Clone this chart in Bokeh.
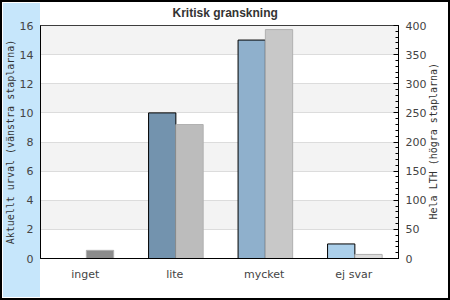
from bokeh.plotting import figure
from bokeh.models import (Range1d, LinearAxis, SingleIntervalTicker, FixedTicker,
                          FactorRange, ColumnDataSource)
from bokeh.transform import dodge
from bokeh.embed import file_html
from bokeh.resources import INLINE
import math

# ---- data ----
categories = ["inget", "lite", "mycket", "ej svar"]
urval_values = [0, 10, 15, 1]          # left axis (Aktuellt urval)
hela_lth_values = [14, 230, 393, 7]    # right axis (Hela LTH)
left_colors = ["#5f7f9a", "#7393ae", "#8fb0cc", "#abcfea"]
right_colors = ["#8c8c8c", "#bcbcbc", "#c8c8c8", "#dcdcdc"]

title_text = "Kritisk granskning"
left_label = "Aktuellt urval (vänstra staplarna)"
right_label = "Hela LTH (högra staplarna)"

src = ColumnDataSource(dict(cat=categories, urval=urval_values, hela=hela_lth_values,
                            lcol=left_colors, rcol=right_colors))

p = figure(width=450, height=300, x_range=FactorRange(*categories, range_padding=0),
           y_range=Range1d(0, 16), output_backend="svg", toolbar_location=None,
           min_border_left=40, min_border_right=52, min_border_top=25, min_border_bottom=42,
           title=title_text, background_fill_color="white",
           border_fill_color=None,
           styles={"background": "linear-gradient(#c6e6fb, #c6e6fb) 3px 3px / 37px 294px no-repeat, white",
                   "box-shadow": "inset 0 0 0 2px black"})

p.extra_y_ranges = {"right": Range1d(0, 400)}

lt = SingleIntervalTicker(interval=2, num_minor_ticks=0)
p.yaxis.ticker = lt
p.ygrid.ticker = lt
p.xgrid.grid_line_color = None
p.ygrid.grid_line_color = "#dcdcdc"
p.ygrid.band_fill_color = "#f3f3f3"
p.ygrid.band_fill_alpha = 1

p.outline_line_color = "black"
p.outline_line_width = 1

# left bars
p.vbar(x=dodge("cat", -0.14, range=p.x_range), top="urval", width=0.305, source=src,
       fill_color="lcol", line_color="black", line_width=1)
# right bars
p.vbar(x=dodge("cat", 0.165, range=p.x_range), top="hela", width=0.305, source=src,
       y_range_name="right", fill_color="rcol", line_color="#b0b0b0", line_width=1)

right = LinearAxis(y_range_name="right",
                   ticker=SingleIntervalTicker(interval=50, num_minor_ticks=5))
p.add_layout(right, "right")

# second right-hand axis that only carries the title, reading bottom-to-top
right_title_axis = LinearAxis(y_range_name="right", ticker=FixedTicker(ticks=[67]),
                              major_label_overrides={67: right_label},
                              major_label_orientation=math.pi / 2)
p.add_layout(right_title_axis, "right")

left = p.left[0]
bottom = p.below[0]

for ax in (left, right, bottom):
    ax.major_label_text_font = "DejaVu Sans"
    ax.major_label_text_font_size = "11px"
    ax.major_label_text_color = "#444444"
    ax.axis_label_text_font = "DejaVu Sans Mono"
    ax.axis_label_text_font_size = "10px"
    ax.axis_label_text_font_style = "normal"
    ax.axis_label_text_color = "#333333"
    ax.axis_line_color = "black"

right_title_axis.axis_line_color = None
right_title_axis.major_tick_line_color = None
right_title_axis.minor_tick_line_color = None
right_title_axis.major_tick_in = 0
right_title_axis.major_tick_out = 0
right_title_axis.minor_tick_in = 0
right_title_axis.minor_tick_out = 0
right_title_axis.major_label_standoff = 4
right_title_axis.major_label_text_font = "DejaVu Sans Mono"
right_title_axis.major_label_text_font_size = "10px"
right_title_axis.major_label_text_color = "#333333"

left.axis_label = left_label
left.major_tick_line_color = None
left.minor_tick_line_color = None
left.major_tick_out = 0
left.major_tick_in = 0
left.minor_tick_out = 0
left.major_label_standoff = 7
left.axis_label_standoff = 1

right.major_tick_in = 5
right.major_tick_out = 0
right.minor_tick_in = 3
right.minor_tick_out = 0
right.major_tick_line_color = "black"
right.minor_tick_line_color = "black"
right.major_label_standoff = 7

bottom.major_tick_line_color = None
bottom.minor_tick_line_color = None
bottom.major_tick_out = 0
bottom.major_tick_in = 0
bottom.minor_tick_out = 0
bottom.major_label_standoff = 9

p.title.align = "left"
p.title.offset = 132
p.title.text_font = "Liberation Sans"
p.title.text_font_size = "12px"
p.title.text_font_style = "bold"
p.title.text_color = "#333333"
p.title.standoff = 8
p.title.vertical_align = "top"

open("out.html", "w").write(file_html(p, INLINE))
